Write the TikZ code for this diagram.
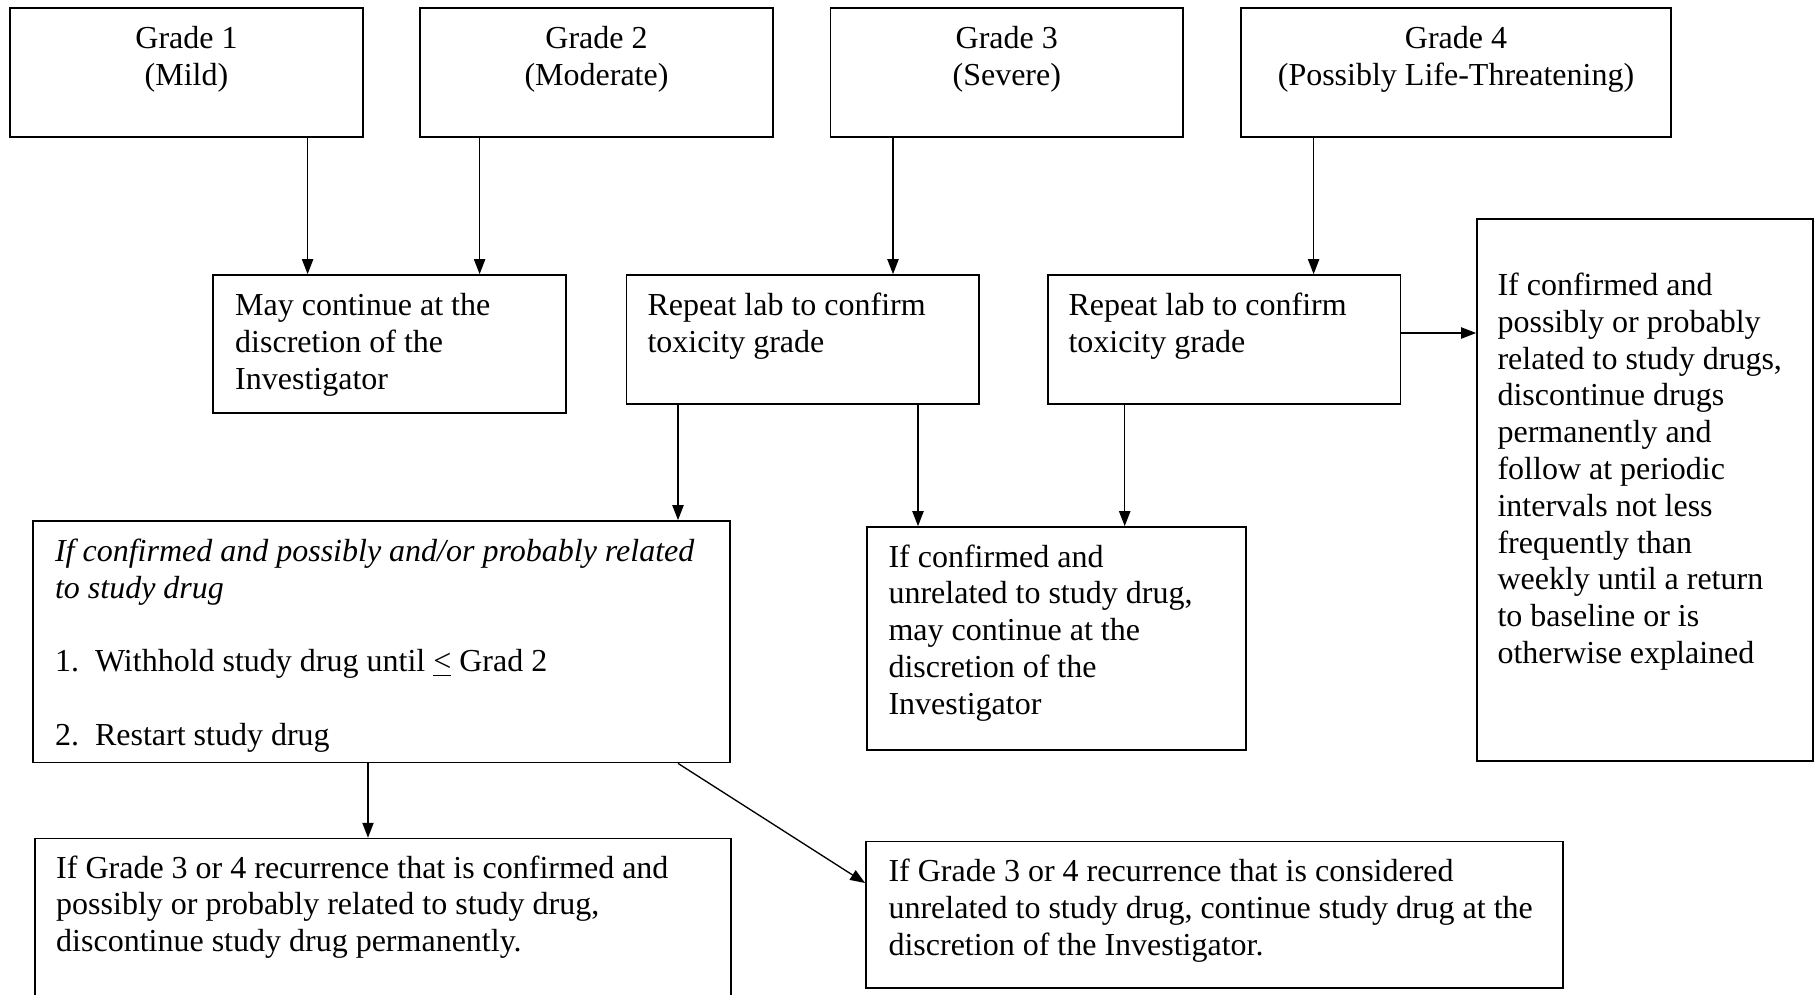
\documentclass[tikz,border=0pt]{standalone}
\usepackage{fontspec}
\setmainfont{Liberation Serif}
\usetikzlibrary{arrows.meta}
\newcommand\mkbox[5]{\node[box, minimum width={(#4-#2)*0.375pt}, minimum height={(#5-#3)*0.375pt}] (#1) at ({(#2+#4)/2},{(#3+#5)/2}) {};}
\begin{document}
\begin{tikzpicture}[x=0.375pt,y=-0.375pt,
  box/.style={draw, line width=0.65pt, inner sep=0pt, rectangle},
  txt/.style={inner sep=0pt, align=left, anchor=north west, font=\fontsize{12}{13.8}\selectfont},
  ctxt/.style={inner sep=0pt, align=center, anchor=north, font=\fontsize{12}{14.2}\selectfont},
  arr/.style={line width=0.5pt, -{Triangle[length=5.6pt,width=4.2pt]}}]
\fill[white] (0,0) rectangle (1818,994);
\useasboundingbox (0,0) rectangle (1818,994);
\clip (0,0) rectangle (1818,994);
% boxes
\mkbox{g1}{10}{8}{363}{137}
\mkbox{g2}{420}{8}{773}{137}
\mkbox{g3}{830.5}{8}{1183}{137}
\mkbox{g4}{1241}{8}{1671}{137}
\mkbox{may}{213}{275}{566}{413}
\mkbox{rep1}{626.5}{275}{979}{404}
\mkbox{rep2}{1048}{275}{1400.6}{404}
\mkbox{rt}{1477}{219}{1813}{761}
\mkbox{it}{33}{521}{730}{762.5}
\mkbox{unrel}{867}{527}{1246}{750}
\mkbox{bl}{35}{838.6}{731}{1010}
\mkbox{br}{866}{841.6}{1563}{988}
% texts
\node[ctxt] (t1) at (186.5,21) {\strut Grade 1\\(Mild)};
\node[ctxt] (t2) at (596.5,21) {\strut Grade 2\\(Moderate)};
\node[ctxt] (t3) at (1006.8,21) {\strut Grade 3\\(Severe)};
\node[ctxt] (t4) at (1456,21) {\strut Grade 4\\(Possibly Life-Threatening)};
\node[txt] (tmay) at (234.7,289.2) {\strut May continue at the\\discretion of the\\Investigator};
\node[txt] (trep1) at (647,289.2) {\strut Repeat lab to confirm\\toxicity grade};
\node[txt] (trep2) at (1068,289.2) {\strut Repeat lab to confirm\\toxicity grade};
\node[txt] (trt) at (1497,269.2) {\strut If confirmed and\\possibly or probably\\related to study drugs,\\discontinue drugs\\permanently and\\follow at periodic\\intervals not less\\frequently than\\weekly until a return\\to baseline or is\\otherwise explained};
\node[txt] (tit) at (54.5,535.2) {\strut\itshape If confirmed and possibly and/or probably related\\\itshape to study drug\\[13.8pt]\makebox[15pt][l]{1.}Withhold study drug until \underline{<} Grad 2\\[13.8pt]\makebox[15pt][l]{2.}Restart study drug};
\node[txt] (tunrel) at (888,540.8) {\strut If confirmed and\\unrelated to study drug,\\may continue at the\\discretion of the\\Investigator};
\node[txt] (tbl) at (55.7,851.7) {\strut If Grade 3 or 4 recurrence that is confirmed and\\possibly or probably related to study drug,\\discontinue study drug permanently.};
\node[txt] (tbr) at (888,855.2) {\strut If Grade 3 or 4 recurrence that is considered\\unrelated to study drug, continue study drug at the\\discretion of the Investigator.};
% connector coordinates
\coordinate (a1) at (307.6,0);
\coordinate (a2) at (479.6,0);
\coordinate (a3) at (893,0);
\coordinate (a4) at (1313.6,0);
\coordinate (a5) at (678,0);
\coordinate (a6) at (918,0);
\coordinate (a7) at (1124.7,0);
\coordinate (a8) at (368,0);
\coordinate (hy) at (0,333);
\coordinate (dy) at (0,883);
% connectors
\draw[arr] (g1.south -| a1) -- (may.north -| a1);
\draw[arr] (g2.south -| a2) -- (may.north -| a2);
\draw[arr] (g3.south -| a3) -- (rep1.north -| a3);
\draw[arr] (g4.south -| a4) -- (rep2.north -| a4);
\draw[arr] (rep1.south -| a5) -- (it.north -| a5);
\draw[arr] (rep1.south -| a6) -- (unrel.north -| a6);
\draw[arr] (rep2.south -| a7) -- (unrel.north -| a7);
\draw[arr] (rep2.east |- hy) -- (rt.west |- hy);
\draw[arr] (it.south -| a8) -- (bl.north -| a8);
\draw[arr] (it.south -| a5) -- (br.west |- dy);
\end{tikzpicture}
\end{document}
